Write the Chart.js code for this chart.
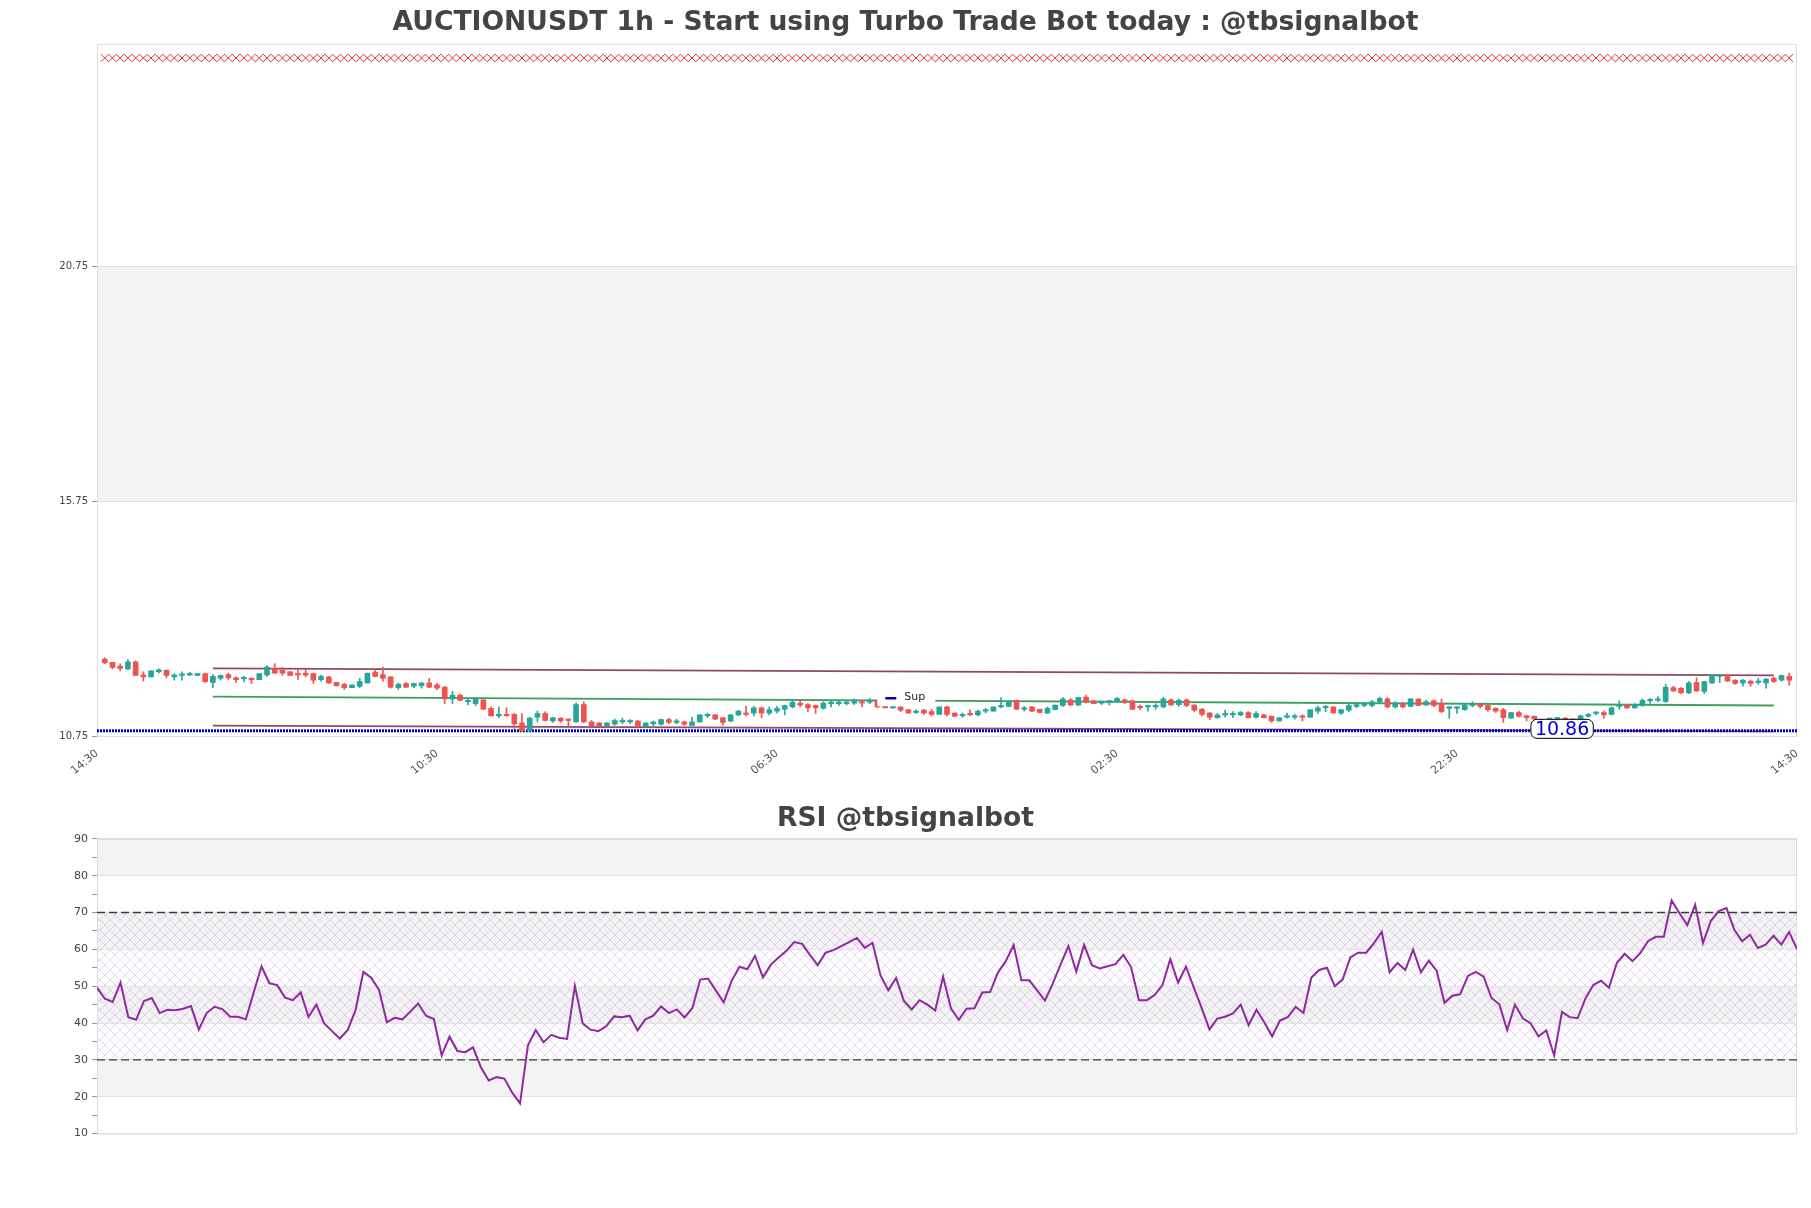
<!DOCTYPE html>
<html>
<head>
<meta charset="utf-8">
<script src="https://cdn.jsdelivr.net/npm/chart.js@4.4.1/dist/chart.umd.min.js"></script>
<style>
html, body { margin: 0; padding: 0; background: #fff; }
#priceBox { position: absolute; left: 0; top: 0; width: 1811px; height: 790px; }
#rsiBox { position: absolute; left: 0; top: 790px; width: 1811px; height: 418px; }
</style>
</head>
<body>
<div id="priceBox"><canvas id="priceChart"></canvas></div>
<div id="rsiBox"><canvas id="rsiChart"></canvas></div>
<script>
// ---------- DATA ----------
const upColor = '#26a69a';
const downColor = '#ef5350';

// hourly candles (candle n sits at x = n)
const opens = [
12.39,12.32,12.24,12.18,12.33,12.05,12.01,12.12,12.15,12.01,12.04,12.05,12.04,12.08,11.89,11.98,12.06,11.99,11.97,11.98,
11.95,12.05,12.19,12.15,12.12,12.06,12.09,12.08,11.95,12.01,11.89,11.85,11.78,11.81,11.88,12.11,12.06,12.01,11.78,11.87,
11.81,11.82,11.88,11.84,11.79,11.54,11.62,11.48,11.44,11.52,11.34,11.18,11.21,11.21,11.03,10.86,11.15,11.23,11.07,11.13,
11.10,11.05,11.42,11.05,11.03,10.97,11.00,11.05,11.05,11.07,10.94,11.01,11.00,11.10,11.04,11.05,10.97,11.05,11.18,11.20,
11.14,11.07,11.20,11.24,11.24,11.35,11.24,11.28,11.32,11.37,11.45,11.42,11.40,11.34,11.44,11.44,11.44,11.45,11.48,11.47,
11.50,11.38,11.35,11.37,11.31,11.25,11.30,11.27,11.21,11.37,11.24,11.18,11.23,11.20,11.28,11.28,11.37,11.38,11.51,11.32,
11.37,11.32,11.24,11.31,11.40,11.52,11.41,11.58,11.50,11.45,11.47,11.48,11.52,11.50,11.38,11.37,11.37,11.37,11.52,11.42,
11.52,11.41,11.32,11.24,11.14,11.20,11.20,11.20,11.25,11.15,11.20,11.17,11.07,11.15,11.15,11.18,11.15,11.28,11.35,11.37,
11.24,11.30,11.38,11.40,11.40,11.48,11.54,11.37,11.45,11.38,11.54,11.41,11.50,11.44,11.34,11.34,11.31,11.40,11.42,11.40,
11.34,11.31,11.13,11.25,11.18,11.17,11.10,11.10,11.11,11.13,11.11,11.10,11.17,11.23,11.25,11.21,11.38,11.41,11.35,11.40,
11.50,11.51,11.48,11.78,11.77,11.67,11.89,11.70,11.88,12.02,12.05,11.94,11.88,11.92,11.89,11.88,11.98,11.94,12.02
];
const highs = [
12.42,12.32,12.29,12.38,12.35,12.12,12.14,12.18,12.16,12.08,12.12,12.11,12.08,12.09,12.06,12.05,12.09,12.01,12.02,11.99,
12.08,12.25,12.29,12.21,12.12,12.16,12.16,12.09,12.05,12.02,11.89,11.87,11.84,11.98,12.09,12.18,12.22,12.02,11.88,11.89,
11.88,11.89,11.98,11.87,11.81,11.70,11.64,11.55,11.57,11.52,11.37,11.37,11.35,11.23,11.23,11.15,11.28,11.27,11.15,11.14,
11.11,11.45,11.48,11.08,11.03,11.03,11.11,11.13,11.10,11.08,11.03,11.07,11.11,11.13,11.11,11.07,11.15,11.21,11.24,11.21,
11.15,11.21,11.30,11.38,11.38,11.37,11.37,11.38,11.41,11.52,11.50,11.44,11.41,11.48,11.50,11.50,11.51,11.54,11.50,11.55,
11.52,11.38,11.38,11.38,11.32,11.31,11.32,11.32,11.37,11.38,11.24,11.24,11.31,11.30,11.34,11.37,11.57,11.48,11.52,11.38,
11.38,11.32,11.37,11.41,11.57,11.55,11.58,11.62,11.50,11.50,11.51,11.57,11.54,11.51,11.41,11.41,11.44,11.57,11.54,11.54,
11.54,11.42,11.34,11.25,11.23,11.30,11.27,11.27,11.27,11.27,11.21,11.18,11.14,11.24,11.21,11.20,11.31,11.38,11.40,11.37,
11.32,11.47,11.47,11.47,11.51,11.58,11.57,11.48,11.47,11.55,11.54,11.51,11.52,11.54,11.37,11.37,11.44,11.48,11.45,11.41,
11.35,11.34,11.25,11.28,11.20,11.18,11.11,11.13,11.14,11.14,11.12,11.20,11.23,11.27,11.28,11.37,11.50,11.42,11.44,11.54,
11.55,11.59,11.85,11.81,11.78,11.91,11.99,11.92,12.06,12.06,12.06,11.95,11.95,11.94,11.98,11.98,12.01,12.05,12.09
];
const lows = [
12.29,12.18,12.14,12.16,12.04,11.92,12.01,12.09,11.99,11.94,11.94,12.04,12.04,11.89,11.78,11.94,11.95,11.89,11.91,11.87,
11.95,12.02,12.08,12.04,12.04,11.95,12.01,11.87,11.92,11.87,11.82,11.74,11.78,11.78,11.88,12.01,11.92,11.77,11.74,11.78,
11.78,11.77,11.78,11.74,11.44,11.44,11.50,11.41,11.40,11.32,11.17,11.14,11.17,10.91,10.84,10.86,11.05,11.07,11.04,11.04,
10.95,11.04,11.03,10.95,10.97,10.97,10.98,11.01,11.01,10.94,10.94,10.93,10.98,11.01,11.01,10.97,10.97,11.04,11.14,11.10,
10.98,11.05,11.18,11.18,11.18,11.14,11.20,11.24,11.20,11.35,11.37,11.27,11.23,11.32,11.37,11.40,11.41,11.42,11.37,11.44,
11.35,11.35,11.34,11.27,11.23,11.23,11.21,11.18,11.21,11.18,11.17,11.15,11.18,11.18,11.24,11.28,11.35,11.38,11.31,11.28,
11.27,11.25,11.23,11.31,11.38,11.40,11.40,11.45,11.44,11.42,11.41,11.47,11.44,11.31,11.31,11.28,11.32,11.35,11.40,11.38,
11.37,11.27,11.18,11.10,11.13,11.15,11.14,11.18,11.13,11.13,11.13,11.04,11.07,11.13,11.11,11.07,11.15,11.23,11.27,11.24,
11.21,11.27,11.35,11.37,11.37,11.45,11.35,11.35,11.35,11.37,11.40,11.40,11.37,11.25,11.13,11.23,11.30,11.37,11.34,11.28,
11.25,11.04,11.13,11.15,11.07,11.04,11.05,11.08,11.09,11.08,11.07,11.08,11.15,11.20,11.13,11.20,11.32,11.34,11.34,11.38,
11.45,11.48,11.47,11.70,11.65,11.65,11.70,11.65,11.87,11.89,11.91,11.85,11.81,11.81,11.85,11.77,11.89,11.92,11.83
];
const closes = [
12.31,12.21,12.19,12.33,12.04,12.01,12.14,12.16,12.04,12.05,12.05,12.08,12.08,11.91,12.02,12.04,11.99,11.95,11.98,11.95,
12.08,12.22,12.09,12.09,12.04,12.05,12.05,11.94,12.02,11.88,11.82,11.78,11.84,11.91,12.09,12.02,11.98,11.79,11.85,11.79,
11.87,11.88,11.79,11.77,11.54,11.62,11.51,11.50,11.54,11.32,11.18,11.21,11.18,11.01,10.86,11.13,11.23,11.08,11.14,11.07,
11.08,11.42,11.05,10.97,10.97,11.03,11.08,11.08,11.07,10.95,11.03,11.05,11.10,11.04,11.05,11.00,11.05,11.20,11.21,11.11,
11.04,11.20,11.28,11.21,11.35,11.24,11.31,11.34,11.40,11.47,11.41,11.35,11.35,11.45,11.45,11.45,11.47,11.51,11.45,11.51,
11.37,11.35,11.37,11.30,11.24,11.28,11.24,11.21,11.37,11.21,11.17,11.21,11.20,11.28,11.30,11.37,11.38,11.48,11.32,11.35,
11.28,11.25,11.34,11.41,11.54,11.41,11.57,11.47,11.44,11.48,11.50,11.55,11.47,11.32,11.35,11.38,11.40,11.54,11.41,11.51,
11.40,11.30,11.21,11.15,11.20,11.23,11.23,11.25,11.14,11.23,11.14,11.07,11.14,11.17,11.18,11.15,11.31,11.35,11.37,11.24,
11.31,11.40,11.42,11.42,11.48,11.55,11.37,11.45,11.37,11.54,11.40,11.48,11.40,11.27,11.35,11.35,11.41,11.44,11.38,11.31,
11.28,11.14,11.25,11.17,11.14,11.11,11.07,11.11,11.12,11.10,11.08,11.18,11.21,11.24,11.20,11.35,11.41,11.35,11.42,11.51,
11.52,11.54,11.79,11.71,11.67,11.88,11.71,11.91,12.04,12.04,11.92,11.87,11.94,11.87,11.91,11.96,11.91,12.04,11.94
];

const rsiValues = [
49.6,46.6,45.7,51.0,41.6,40.9,46.0,46.8,42.7,43.6,43.5,43.9,44.6,38.2,42.7,44.4,43.8,41.7,41.7,41.0,
48.3,55.4,50.8,50.3,46.9,46.2,48.3,41.7,45.0,39.9,37.8,35.8,38.1,43.5,53.9,52.3,49.0,40.2,41.4,41.0,
43.1,45.3,42.0,41.1,31.2,36.3,32.4,32.1,33.4,28.0,24.4,25.3,24.9,21.1,18.2,33.9,38.1,34.8,36.8,36.0,
35.7,50.1,39.9,38.2,37.8,39.1,41.8,41.6,42.0,38.0,41.0,42.0,44.5,42.7,43.7,41.5,44.1,51.8,52.1,48.8,
45.6,51.4,55.3,54.6,58.2,52.4,55.8,57.8,59.6,62.0,61.5,58.5,55.7,59.1,59.8,60.9,62.0,63.1,60.4,61.8,
53.0,48.9,52.2,46.0,43.7,46.2,45.0,43.4,52.6,44.0,40.9,43.9,44.0,48.3,48.4,53.7,56.8,61.2,51.6,51.6,
48.9,46.1,50.7,55.9,60.9,54.0,61.2,55.7,54.8,55.4,56.0,58.5,55.2,46.2,46.2,47.6,50.3,57.3,51.0,55.3,
49.7,44.1,38.3,41.2,41.7,42.6,45.0,39.4,43.6,40.2,36.4,40.7,41.6,44.4,42.7,52.3,54.4,55.0,50.0,51.8,
57.9,59.1,59.1,61.7,64.8,53.8,56.3,54.4,59.9,53.8,56.9,54.2,45.5,47.4,47.8,52.8,53.9,52.6,46.8,45.1,
38.1,45.0,41.3,39.9,36.4,38.0,31.2,43.0,41.6,41.3,46.7,50.3,51.5,49.6,56.3,58.8,56.8,59.0,62.3,63.4,
63.4,73.3,69.8,66.6,72.1,61.7,67.7,70.4,71.2,65.3,62.2,64.0,60.4,61.3,63.7,61.3,64.7,60.1
];

// axes / levels
const priceTicks = [10.75, 15.75, 20.75];
const priceMin = 10.75;
const priceMax = 25.5;
const timeTickPos = [0, 44, 88, 132, 176, 220];
const timeTickLabels = ['14:30', '10:30', '06:30', '02:30', '22:30', '14:30'];
const rsiTicks = [10, 20, 30, 40, 50, 60, 70, 80, 90];
const rsiLevels = [30, 70];

const supportLevel = 10.86;
const supportLabelAt = 189.6;
const markerLevel = 25.2;
const trendX = [15, 217];
const upperTrend = [12.19, 12.04];
const midTrend = [11.59, 11.40];
const lowerTrend = [10.97, 10.85];

Chart.defaults.font.family = '"DejaVu Sans", sans-serif';
Chart.defaults.color = '#444';

// ---------- PLUGINS ----------
function makeHatch(ctx) {
    var c = document.createElement('canvas');
    c.width = 10; c.height = 10;
    var g = c.getContext('2d');
    g.strokeStyle = 'rgba(185,165,205,0.6)';
    g.lineWidth = 0.7;
    g.beginPath();
    g.moveTo(0, 0); g.lineTo(10, 10);
    g.moveTo(10, 0); g.lineTo(0, 10);
    g.stroke();
    return ctx.createPattern(c, 'repeat');
}

var bandsPlugin = {
    id: 'bands',
    beforeDraw: function(chart, args, opts) {
        var area = chart.chartArea;
        var y = chart.scales.y;
        var ctx = chart.ctx;
        ctx.save();
        ctx.fillStyle = '#f3f3f3';
        for (var i = 0; i < opts.edges.length - 1; i++) {
            if (i % 2 === 1) {
                var top = y.getPixelForValue(opts.edges[i + 1]);
                var bottom = y.getPixelForValue(opts.edges[i]);
                ctx.fillRect(area.left, top, area.right - area.left, bottom - top);
            }
        }
        if (opts.hatch) {
            var t = y.getPixelForValue(opts.hatch[1]);
            var b = y.getPixelForValue(opts.hatch[0]);
            ctx.fillStyle = makeHatch(ctx);
            ctx.fillRect(area.left, t, area.right - area.left, b - t);
        }
        ctx.restore();
    },
    beforeDatasetsDraw: function(chart) {
        var area = chart.chartArea;
        var ctx = chart.ctx;
        ctx.save();
        ctx.strokeStyle = '#dcdcdc';
        ctx.lineWidth = 1;
        ctx.strokeRect(area.left + 0.5, area.top + 0.5, area.right - area.left - 1, area.bottom - area.top);
        ctx.restore();
    }
};

var overlayPlugin = {
    id: 'overlay',
    afterDatasetsDraw: function(chart) {
        var ctx = chart.ctx;
        var x = chart.scales.x, y = chart.scales.y, area = chart.chartArea;
        ctx.save();

        // support value tag
        var txt = supportLevel.toFixed(2);
        ctx.font = '19px "DejaVu Sans"';
        var w = ctx.measureText(txt).width + 8;
        var h = 19;
        var cx = x.getPixelForValue(supportLabelAt);
        var cy = y.getPixelForValue(supportLevel) - 2;
        ctx.beginPath();
        ctx.roundRect(cx - w / 2, cy - h / 2, w, h, 6);
        ctx.fillStyle = '#fff';
        ctx.fill();
        ctx.strokeStyle = '#000';
        ctx.lineWidth = 1;
        ctx.stroke();
        ctx.fillStyle = '#0000e0';
        ctx.textAlign = 'center';
        ctx.textBaseline = 'middle';
        ctx.fillText(txt, cx, cy + 1);

        // legend box (Sup)
        var lx = area.left + (area.right - area.left) * 0.459;
        var ly = area.top + (area.bottom - area.top) * 0.944;
        ctx.fillStyle = '#fff';
        ctx.fillRect(lx, ly - 9, 58, 18);
        ctx.strokeStyle = '#0000cc';
        ctx.lineWidth = 2.5;
        ctx.beginPath();
        ctx.moveTo(lx + 8, ly + 1);
        ctx.lineTo(lx + 19, ly + 1);
        ctx.stroke();
        ctx.fillStyle = '#222';
        ctx.font = '11px "DejaVu Sans"';
        ctx.textAlign = 'left';
        ctx.fillText('Sup', lx + 27, ly);
        ctx.restore();
    }
};

// ---------- PRICE CHART ----------
var bodies = opens.map(function(o, i) { return {x: i + 1, y: [o, closes[i]]}; });
var wicks = opens.map(function(o, i) { return {x: i + 1, y: [lows[i], highs[i]]}; });
var markers = opens.map(function(o, i) { return {x: i + 1, y: markerLevel}; });

function candleColor(ctx) {
    var i = ctx.dataIndex;
    return closes[i] >= opens[i] ? upColor : downColor;
}

function trendLine(vals, color) {
    return {
        type: 'line',
        data: [{x: trendX[0], y: vals[0]}, {x: trendX[1], y: vals[1]}],
        borderColor: color,
        borderWidth: 1.8,
        pointRadius: 0,
        order: 5
    };
}

new Chart(document.getElementById('priceChart'), {
    type: 'bar',
    data: {
        datasets: [
            trendLine(upperTrend, 'rgba(125,40,70,0.85)'),
            trendLine(midTrend, 'rgba(40,150,80,0.9)'),
            trendLine(lowerTrend, 'rgba(125,40,70,0.85)'),
            {
                type: 'line',
                label: 'Sup',
                data: [{x: 0, y: supportLevel}, {x: 220, y: supportLevel}],
                borderColor: '#0000cc',
                borderWidth: 3,
                borderDash: [2, 1],
                pointRadius: 0,
                order: 4
            },
            {
                label: 'wick',
                data: wicks,
                backgroundColor: candleColor,
                barThickness: 1,
                grouped: false,
                order: 3
            },
            {
                label: 'body',
                data: bodies,
                backgroundColor: candleColor,
                barThickness: 5,
                minBarLength: 1.5,
                grouped: false,
                order: 2
            },
            {
                type: 'line',
                label: 'res',
                data: markers,
                showLine: false,
                pointStyle: 'crossRot',
                pointRadius: 5.5,
                pointBorderColor: '#e03030',
                pointBorderWidth: 1,
                order: 1
            }
        ]
    },
    options: {
        responsive: true,
        maintainAspectRatio: false,
        animation: false,
        events: [],
        layout: { padding: { left: 14, right: 14, top: 0, bottom: 0 } },
        plugins: {
            legend: { display: false },
            tooltip: { enabled: false },
            title: {
                display: true,
                text: 'AUCTIONUSDT 1h - Start using Turbo Trade Bot today : @tbsignalbot',
                color: '#444',
                font: { size: 26.6, weight: 'bold', lineHeight: 1.2 },
                padding: { top: 7, bottom: 5 }
            },
            bands: { edges: priceTicks.concat([priceMax]) }
        },
        scales: {
            x: {
                type: 'linear',
                offset: false,
                min: 0,
                max: 220,
                afterBuildTicks: function(scale) {
                    scale.ticks = timeTickPos.map(function(v) { return {value: v}; });
                },
                afterFit: function(scale) { scale.height = 54; },
                ticks: {
                    autoSkip: false,
                    minRotation: 40,
                    maxRotation: 40,
                    font: { size: 11 },
                    color: '#555',
                    callback: function(value, index) { return timeTickLabels[index]; }
                },
                grid: { display: false, offset: false },
                border: { display: false }
            },
            y: {
                min: priceMin,
                max: priceMax,
                afterBuildTicks: function(scale) {
                    scale.ticks = priceTicks.map(function(v) { return {value: v}; });
                },
                afterFit: function(scale) { scale.width = 83; },
                ticks: {
                    font: { size: 10 },
                    color: '#444',
                    padding: 4,
                    callback: function(value) { return Number(value).toFixed(2); }
                },
                grid: { color: '#e2e2e2', tickLength: 5, tickColor: '#999' },
                border: { display: false }
            }
        }
    },
    plugins: [bandsPlugin, overlayPlugin]
});

// ---------- RSI CHART ----------
var rsiPoints = rsiValues.map(function(v, i) { return {x: i, y: v}; });
var lastIdx = rsiValues.length - 1;

function levelLine(v) {
    return {
        data: [{x: 0, y: v}, {x: lastIdx, y: v}],
        borderColor: '#3a3a3a',
        borderWidth: 1.4,
        borderDash: [8, 4],
        pointRadius: 0,
        order: 2
    };
}

new Chart(document.getElementById('rsiChart'), {
    type: 'line',
    data: {
        datasets: [
            {
                label: 'RSI',
                data: rsiPoints,
                borderColor: '#9127a3',
                borderWidth: 2,
                pointRadius: 0,
                tension: 0,
                order: 1
            },
            levelLine(rsiLevels[0]),
            levelLine(rsiLevels[1])
        ]
    },
    options: {
        responsive: true,
        maintainAspectRatio: false,
        animation: false,
        events: [],
        layout: { padding: { left: 14, right: 14, top: 0, bottom: 74.5 } },
        plugins: {
            legend: { display: false },
            tooltip: { enabled: false },
            title: {
                display: true,
                text: 'RSI @tbsignalbot',
                color: '#444',
                font: { size: 26.6, weight: 'bold', lineHeight: 1.2 },
                padding: { top: 13, bottom: 4 }
            },
            bands: { edges: rsiTicks, hatch: rsiLevels }
        },
        scales: {
            x: {
                type: 'linear',
                display: false,
                min: 0,
                max: lastIdx
            },
            y: {
                min: rsiTicks[0],
                max: rsiTicks[rsiTicks.length - 1],
                afterBuildTicks: function(scale) {
                    var t = [];
                    rsiTicks.forEach(function(v, i) {
                        t.push({value: v});
                        if (i < rsiTicks.length - 1) t.push({value: (v + rsiTicks[i + 1]) / 2});
                    });
                    scale.ticks = t;
                },
                afterFit: function(scale) { scale.width = 83; },
                ticks: {
                    autoSkip: false,
                    font: { size: 11 },
                    color: '#444',
                    padding: 4,
                    callback: function(value) { return rsiTicks.indexOf(value) >= 0 ? value : ''; }
                },
                grid: {
                    color: function(ctx) {
                        return ctx.tick && rsiTicks.indexOf(ctx.tick.value) >= 0 ? '#e2e2e2' : 'rgba(0,0,0,0)';
                    },
                    tickColor: '#999',
                    tickLength: 5
                },
                border: { display: false }
            }
        }
    },
    plugins: [bandsPlugin]
});
</script>
</body>
</html>
